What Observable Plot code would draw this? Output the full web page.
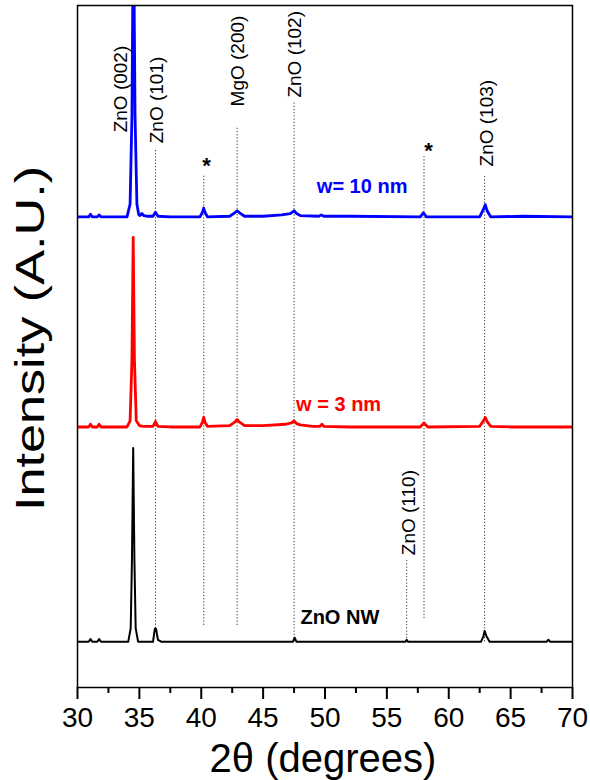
<!DOCTYPE html>
<html><head><meta charset="utf-8">
<script src="https://cdn.jsdelivr.net/npm/d3@7"></script>
<script src="https://cdn.jsdelivr.net/npm/@observablehq/plot@0.6"></script>
<style>body{margin:0;background:#fff}</style>
</head><body><div id="chart"></div>
<script>
// ZnO NW (black)
const nwTheta = [30.0,30.9,31.05,31.2,31.6,31.75,31.9,34.1,34.3,34.4,34.5,34.6,34.7,34.9,36.1,36.25,36.35,36.5,36.8,47.4,47.55,47.7,56.5,56.6,56.7,62.6,62.8,62.9,63.05,63.3,67.9,68.05,68.2,70.0];
const nwInt   = [0,0,0.4,0,0,0.4,0,0,2,12,28.4,12,2,0,0,1.9,1.9,0.3,0,0,0.6,0,0,0.3,0,0,0.8,1.6,0.8,0,0,0.3,0,0];
// w = 3 nm (red)
const w3Theta = [30.0,30.9,31.05,31.2,31.6,31.75,31.9,34.0,34.25,34.4,34.5,34.6,34.75,35.0,35.3,36.1,36.3,36.5,37.5,39.9,40.1,40.2,40.3,40.5,42.3,42.7,42.9,43.1,43.5,45.0,46.8,47.3,47.5,47.7,48.0,49.0,49.6,49.75,49.9,52.0,57.7,58.0,58.3,62.5,62.8,62.95,63.1,63.4,65.0,70.0];
const w3Int   = [0.1,0.1,0.5,0.1,0.1,0.5,0.1,0.1,1.0,10,27.9,10,1.0,0.3,0.2,0.2,0.9,0.2,0.1,0.1,0.8,1.5,0.8,0.2,0.3,0.8,1.2,0.8,0.3,0.3,0.5,0.7,1.0,0.6,0.4,0.2,0.2,0.5,0.2,0.1,0.1,0.7,0.1,0.2,1.0,1.5,0.9,0.2,0.1,0.1];
// w = 10 nm (blue)
const w10Theta = [30.0,30.9,31.05,31.2,31.6,31.75,31.9,34.0,34.25,34.4,34.52,34.65,34.8,34.95,35.05,35.2,35.35,35.6,36.1,36.3,36.5,37.5,39.9,40.1,40.2,40.3,40.5,42.3,42.7,42.9,43.1,43.5,45.0,46.5,47.2,47.5,47.7,48.0,49.5,49.7,49.9,52.0,57.7,57.95,58.2,62.5,62.8,62.95,63.1,63.4,66.0,70.0];
const w10Int   = [0.1,0.1,0.5,0.1,0.1,0.4,0.1,0.1,2,15,45,15,2,0.4,0.3,0.6,0.3,0.2,0.2,0.8,0.2,0.1,0.1,0.8,1.4,0.8,0.1,0.2,0.7,1.0,0.7,0.2,0.2,0.4,0.6,1.0,0.6,0.3,0.2,0.4,0.2,0.2,0.1,0.7,0.1,0.1,1.2,1.9,1.0,0.1,0.2,0.1];
const sampleNames   = ["ZnO NW", "w = 3 nm", "w= 10 nm"];
const sampleOffsets = [6.7, 38.1, 68.9];
const sampleColors  = ["#000000", "#ff0000", "#0000ff"];
const sampleLabelTheta = [51.2, 51.1, 53.0];
const sampleLabelY     = [10.3, 41.55, 73.5];

// reflection markers (dotted lines)
const markerTheta  = [36.3, 40.2, 42.9, 47.5, 56.6, 58.0, 62.9];
const markerTop    = [79.0, 75.1, 82.0, 85.8, 18.6, 78.0, 75.1];
const markerBottom = [8.65, 9.1, 9.1, 6.7, 6.7, 10.1, 6.7];
// reflection labels
const peakText  = ["ZnO (002)", "ZnO (101)", "MgO (200)", "ZnO (102)", "ZnO (110)", "ZnO (103)"];
const peakTheta = [33.5, 36.45, 42.95, 47.6, 56.75, 63.05];
const peakY     = [81.4, 79.8, 85.2, 86.5, 19.4, 76.4];
const starTheta = [40.42, 58.36];
const starY     = [76.5, 78.7];

const xMajor = [30,35,40,45,50,55,60,65,70];
const xMinor = [32.5,37.5,42.5,47.5,52.5,57.5,62.5,67.5];

const rows = (th, it, k) => th.map((t, i) => ({t, y: it[i] + sampleOffsets[k]}));
const traces = [rows(nwTheta, nwInt, 0), rows(w3Theta, w3Int, 1), rows(w10Theta, w10Int, 2)];
const markers = markerTheta.map((t, i) => ({t, top: markerTop[i], bottom: markerBottom[i]}));
const peaks = peakText.map((s, i) => ({s, t: peakTheta[i], y: peakY[i]}));
const stars = starTheta.map((t, i) => ({t, y: starY[i]}));
const sampleLabels = sampleNames.map((s, i) => ({s, t: sampleLabelTheta[i], y: sampleLabelY[i], c: sampleColors[i]}));

const font = "'Liberation Sans', Arial, sans-serif";
const chart = Plot.plot({
  width: 590, height: 780,
  marginLeft: 77, marginRight: 18, marginTop: 5, marginBottom: 93,
  style: {fontFamily: font, background: "white", color: "black"},
  x: {domain: [30, 70]},
  y: {domain: [0, 100], axis: null},
  marks: [
    Plot.ruleX(markers, {x: "t", y1: "bottom", y2: "top", stroke: "#333", strokeWidth: 1, strokeDasharray: "1.2,2"}),
    Plot.line(traces[0], {x: "t", y: "y", stroke: sampleColors[0], strokeWidth: 2, clip: true}),
    Plot.line(traces[1], {x: "t", y: "y", stroke: sampleColors[1], strokeWidth: 2.8, clip: true}),
    Plot.line(traces[2], {x: "t", y: "y", stroke: sampleColors[2], strokeWidth: 2.8, clip: true}),
    Plot.frame({stroke: "black", strokeWidth: 1.5}),
    Plot.axisX({ticks: xMajor, tickSize: 12, tickPadding: 8, fontSize: 28, strokeWidth: 2, label: null}),
    Plot.axisX({ticks: xMinor, tickSize: 6, text: null, strokeWidth: 2, label: null}),
    Plot.text(peaks, {x: "t", y: "y", text: "s", rotate: -90, textAnchor: "start", fontSize: 19, fill: "black"}),
    Plot.text(stars, {x: "t", y: "y", text: () => "*", fontSize: 22, fontWeight: "bold", fill: "black"}),
    Plot.text(sampleLabels, {x: "t", y: "y", text: "s", fill: "c", fontSize: 20, fontWeight: "bold"}),
    Plot.text(["Intensity (A.U.)"], {frameAnchor: "left", textAnchor: "middle", lineAnchor: "middle", dx: -47, dy: -8, rotate: -90, fontSize: 41, fill: "black", className: "ylab"}),
    Plot.text(["2θ (degrees)"], {frameAnchor: "bottom", textAnchor: "middle", lineAnchor: "middle", dx: -2, dy: 72, fontSize: 40, fill: "black"})
  ]
});
d3.select(chart).selectAll("g.ylab text").attr("textLength", 345).attr("lengthAdjust", "spacingAndGlyphs");
document.getElementById("chart").append(chart);
</script>
</body></html>
